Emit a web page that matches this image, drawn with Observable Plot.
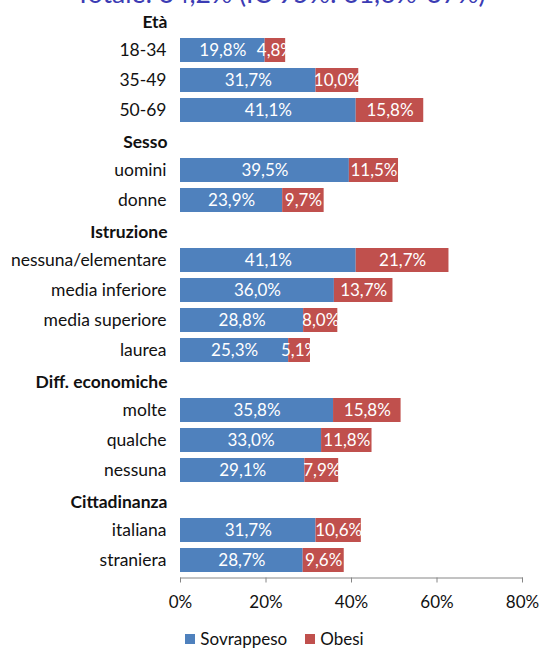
<!DOCTYPE html>
<html>
<head>
<meta charset="utf-8">
<script src="https://cdn.jsdelivr.net/npm/d3@7"></script>
<script src="https://cdn.jsdelivr.net/npm/@observablehq/plot@0.6"></script>
<style>
  body { margin: 0; background: #fff; font-family: Lato, "Open Sans", sans-serif; overflow: hidden; }
  #wrap { position: relative; width: 541px; height: 648px; overflow: hidden; }
  #title { position: absolute; top: -23px; left: 10px; width: 541px; text-align: center; font-size: 26.5px; color: #3c3cb4; white-space: nowrap; }
  #chart { position: absolute; top: 0; left: 0; }
  #legend { position: absolute; top: 628px; left: 4px; width: 541px; display: flex; justify-content: center; gap: 18px; font-size: 17px; color: #111; }
  #legend span.sw { display: inline-block; width: 10px; height: 10px; margin-right: 5px; }
  #legend div { display: flex; align-items: center; }
</style>
</head>
<body>
<div id="wrap">
  <div id="title">Totale: 34,2% (IC 95%: 31,6%-37%)</div>
  <div id="chart"></div>
  <div id="legend"></div>
</div>
<script>
const groups = ["Età", "Sesso", "Istruzione", "Diff. economiche", "Cittadinanza"];
const categories = ["18-34", "35-49", "50-69", "uomini", "donne", "nessuna/elementare", "media inferiore", "media superiore", "laurea", "molte", "qualche", "nessuna", "italiana", "straniera"];
const categoryGroup = ["Età", "Età", "Età", "Sesso", "Sesso", "Istruzione", "Istruzione", "Istruzione", "Istruzione", "Diff. economiche", "Diff. economiche", "Diff. economiche", "Cittadinanza", "Cittadinanza"];
const sovrappeso = [19.8, 31.7, 41.1, 39.5, 23.9, 41.1, 36.0, 28.8, 25.3, 35.8, 33.0, 29.1, 31.7, 28.7];
const obesi = [4.8, 10.0, 15.8, 11.5, 9.7, 21.7, 13.7, 8.0, 5.1, 15.8, 11.8, 7.9, 10.6, 9.6];
const series = ["Sovrappeso", "Obesi"];
const colors = ["#4f81bd", "#c0504d"];
const xTicks = [0, 20, 40, 60, 80];

// y order: group header followed by its categories
const yDomain = [];
groups.forEach(g => {
  yDomain.push(g);
  categories.forEach((c, i) => { if (categoryGroup[i] === g) yDomain.push(c); });
});

const rows = [];
categories.forEach((c, i) => {
  rows.push({cat: c, series: "Sovrappeso", x1: 0, x2: sovrappeso[i], v: sovrappeso[i]});
  rows.push({cat: c, series: "Obesi", x1: sovrappeso[i], x2: sovrappeso[i] + obesi[i], v: obesi[i]});
});
const fmt = v => v.toFixed(1).replace(".", ",") + "%";

const chart = Plot.plot({
  width: 541,
  height: 625,
  marginLeft: 180,
  marginRight: 19,
  marginTop: 1.5,
  marginBottom: 47.5,
  style: {fontFamily: "Lato, 'Open Sans', sans-serif", fontSize: "17px", color: "#111"},
  x: {domain: [0, 80], ticks: xTicks, tickFormat: d => d + "%"},
  y: {domain: yDomain, padding: 0.2, axis: null},
  color: {domain: series, range: colors},
  marks: [
    Plot.barX(rows, {y: "cat", x1: "x1", x2: "x2", fill: "series"}),
    Plot.text(rows, {y: "cat", x: d => (d.x1 + d.x2) / 2, text: d => fmt(d.v), fill: "white", fontSize: 17}),
    Plot.text(categories, {y: d => d, x: 0, text: d => d, textAnchor: "end", dx: -14, fill: "#111", fontSize: 17.5}),
    Plot.text(groups, {y: d => d, x: 0, text: d => d, textAnchor: "end", dx: -13, dy: 1.5, fill: "#111", fontWeight: "bold", fontSize: 17.5}),
    Plot.frame({anchor: "bottom", stroke: "#868686"}),
    Plot.axisX({ticks: xTicks, tickFormat: d => d + "%", tickSize: 5, tickPadding: 13, stroke: "#868686", fill: "#111", fontSize: 17, label: null})
  ]
});
document.getElementById("chart").appendChild(chart);

const legend = document.getElementById("legend");
series.forEach((s, i) => {
  const d = document.createElement("div");
  d.innerHTML = `<span class="sw" style="background:${colors[i]}"></span>${s}`;
  legend.appendChild(d);
});
</script>
</body>
</html>
